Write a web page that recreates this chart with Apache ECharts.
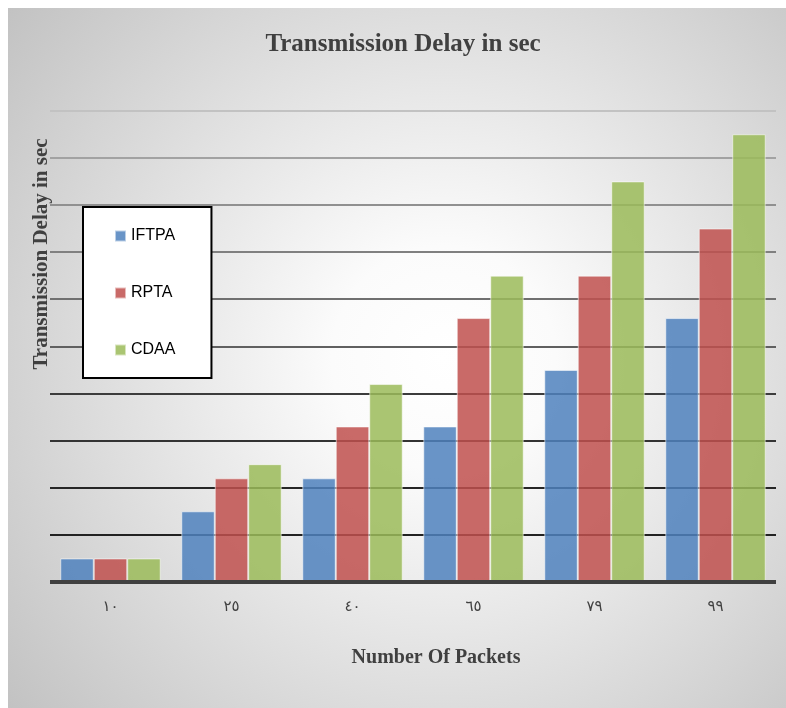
<!DOCTYPE html>
<html>
<head>
<meta charset="utf-8">
<script src="https://cdn.jsdelivr.net/npm/echarts@6/dist/echarts.min.js"></script>
<style>
    html, body { margin: 0; padding: 0; background: #ffffff; }
    #main { width: 786px; height: 708px; }
</style>
</head>
<body>
<div id="main"></div>
<script>
// packet counts, shown in Eastern Arabic digits as in the source
const categories = ['١٠', '٢٥', '٤٠', '٦٥', '٧٩', '٩٩'];
const seriesNames = ['IFTPA', 'RPTA', 'CDAA'];
const iftpa = [0.5, 1.5, 2.2, 3.3, 4.5, 5.6];
const rpta = [0.5, 2.2, 3.3, 5.6, 6.5, 7.5];
const cdaa = [0.5, 2.5, 4.2, 6.5, 8.5, 9.5];
const yMin = 0;
const yMax = 10;
const yStep = 1;

const colorList = ['rgba(79,129,189,0.85)', 'rgba(192,80,77,0.85)', 'rgba(155,187,89,0.85)'];
// grid lines get lighter towards the top (index 0 = baseline)
const gridColors = ['#202020', '#222222', '#262626', '#333333', '#3c3c3c', '#606060', '#707070', '#808080', '#909090', '#a2a2a2', '#c2c2c2'];

let seriesList = [iftpa, rpta, cdaa].map((data, i) => {
    return {
        name: seriesNames[i],
        type: 'bar',
        data: data,
        barGap: '0%',
        barCategoryGap: '17%',
        itemStyle: {
            color: colorList[i],
            borderColor: 'rgba(255,255,255,0.55)',
            borderWidth: 1
        }
    };
});

let option = {
    animation: false,
    backgroundColor: 'transparent',
    graphic: [
        {
            type: 'rect',
            z: -10,
            silent: true,
            shape: { x: 8, y: 8, width: 778, height: 700 },
            style: {
                fill: new echarts.graphic.RadialGradient(0.56, 0.5, 0.8, [
                    { offset: 0, color: '#ffffff' },
                    { offset: 0.2, color: '#fbfbfb' },
                    { offset: 1, color: '#c2c2c2' }
                ])
            }
        },
        {
            type: 'text',
            x: 403,
            y: 45,
            style: {
                text: 'Transmission Delay in sec',
                fill: '#404040',
                font: 'bold 25px "Liberation Serif", serif',
                textAlign: 'center',
                textVerticalAlign: 'middle'
            }
        },
        {
            type: 'text',
            x: 42,
            y: 254,
            rotation: Math.PI / 2,
            style: {
                text: 'Transmission Delay in sec',
                fill: '#404040',
                font: 'bold 21px "Liberation Serif", serif',
                textAlign: 'center',
                textVerticalAlign: 'middle'
            }
        },
        {
            type: 'text',
            x: 436,
            y: 658,
            style: {
                text: 'Number Of Packets',
                fill: '#404040',
                font: 'bold 20px "Liberation Serif", serif',
                textAlign: 'center',
                textVerticalAlign: 'middle'
            }
        }
    ],
    legend: {
        orient: 'vertical',
        left: 83,
        top: 207,
        data: seriesNames,
        icon: 'rect',
        itemWidth: 11,
        itemHeight: 11,
        itemGap: 41,
        padding: [21, 36, 20, 31],
        backgroundColor: '#ffffff',
        borderColor: '#000000',
        borderWidth: 2,
        textStyle: {
            color: '#000000',
            fontSize: 16,
            lineHeight: 16,
            fontFamily: '"Liberation Sans", Arial, sans-serif'
        }
    },
    grid: {
        left: 50,
        right: 10,
        top: 110.7,
        bottom: 126
    },
    xAxis: {
        type: 'category',
        data: categories,
        z: 5,
        axisLine: {
            show: true,
            lineStyle: { color: '#404040', width: 4, cap: 'butt' }
        },
        axisTick: { show: false },
        axisLabel: {
            margin: 18,
            color: '#404040',
            fontSize: 15,
            fontFamily: '"DejaVu Sans", sans-serif'
        },
        splitLine: { show: false }
    },
    yAxis: {
        type: 'value',
        min: yMin,
        max: yMax,
        interval: yStep,
        axisLine: { show: false },
        axisTick: { show: false },
        axisLabel: { show: false },
        splitLine: {
            show: true,
            lineStyle: {
                color: gridColors,
                width: 2
            }
        }
    },
    series: seriesList
};

var myChart = echarts.init(document.getElementById('main'), null, { renderer: 'canvas' });
myChart.setOption(option);
</script>
</body>
</html>
